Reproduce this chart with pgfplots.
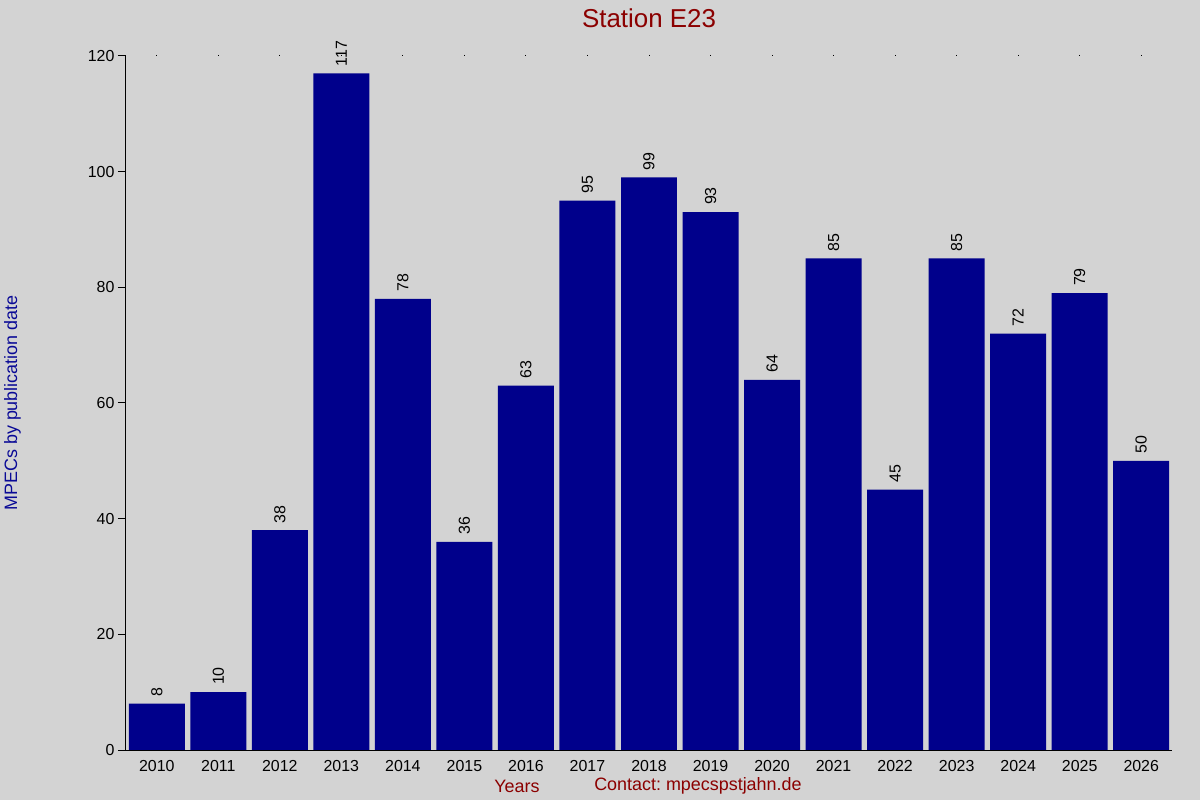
\documentclass[border=0pt]{standalone}
\usepackage{fontspec}
\setmainfont{Liberation Sans}
\usepackage{pgfplots}
\usepackage{pgfplotstable}
\pgfplotsset{compat=1.18}

\definecolor{bg}{RGB}{211,211,211}
\definecolor{barblue}{RGB}{0,0,139}
\definecolor{darkred}{RGB}{139,0,0}
\definecolor{labelblue}{RGB}{10,10,150}

% MPECs per year, station E23
\pgfplotstableread{
idx year n
0  2010 8
1  2011 10
2  2012 38
3  2013 117
4  2014 78
5  2015 36
6  2016 63
7  2017 95
8  2018 99
9  2019 93
10 2020 64
11 2021 85
12 2022 45
13 2023 85
14 2024 72
15 2025 79
16 2026 50
}\mpecs

\begin{document}
\frenchspacing
\begin{tikzpicture}
\fill[bg, use as bounding box] (-126bp,-50bp) rectangle (1074bp,750bp);
\begin{axis}[
    at={(0,0)}, anchor=south west,
    scale only axis,
    width=1046bp, height=694bp,
    xmin=-0.5, xmax=16.5,
    ymin=0, ymax=120,
    ybar, bar shift=0pt, bar width=0.91,
    clip=false,
    axis line style={draw=none},
    font=\fontsize{16}{19}\selectfont,
    /pgf/number format/assume math mode=true,
    xtick={0,...,16},
    xticklabels={2010,2011,2012,2013,2014,2015,2016,2017,2018,2019,2020,2021,2022,2023,2024,2025,2026},
    xtick pos=right, xticklabel pos=left,
    xtick style={black, line width=1bp, /pgfplots/major tick length=1bp},
    xticklabel style={yshift=1bp},
    ytick={0,20,...,120},
    ytick pos=left,
    tick align=outside,
    major tick length=8bp,
    ytick style={black, line width=1bp},
    title={Station E23},
    title style={at={(rel axis cs:0.5,1.0455)}, anchor=center,
        font=\fontsize{26}{30}\selectfont, text=darkred},
    xlabel={Years},
    xlabel style={at={(rel axis cs:0.3738,-0.0519)}, anchor=center,
        font=\fontsize{18}{21}\selectfont, text=darkred},
    ylabel={MPECs by publication date},
    ylabel style={at={(rel axis cs:-0.1085,0.5)}, anchor=center,
        font=\fontsize{18}{21}\selectfont, text=labelblue},
    nodes near coords,
    every node near coord/.style={rotate=90, anchor=west, inner sep=0pt,
        inner xsep=7bp, font=\fontsize{16}{19}\selectfont, text=black},
]
\addplot[draw=none, fill=barblue] table[x=idx, y=n] {\mpecs};
\draw[black, line width=1bp] (rel axis cs:0,1) -- (rel axis cs:0,0) -- (rel axis cs:1,0);
\node[anchor=center, font=\fontsize{18}{21}\selectfont, text=darkred]
    at (rel axis cs:0.5468,-0.0519) {Contact: mpecspstjahn.de};
\end{axis}
\end{tikzpicture}
\end{document}
